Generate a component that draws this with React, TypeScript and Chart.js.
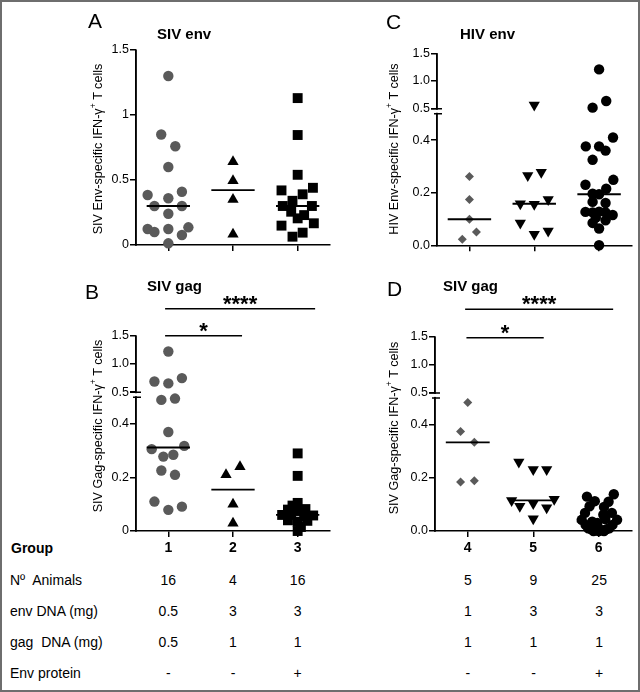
import React, { useEffect, useRef } from 'react';
import { Chart, registerables } from 'chart.js';

Chart.register(...registerables);

const FONT = '"Liberation Sans", Arial, Helvetica, sans-serif';
const GRAY = '#5a5a5a';
const BLACK = '#000000';
Chart.defaults.font.family = FONT;
Chart.defaults.color = BLACK;

// ---------------- DATA ----------------
// Panel A: SIV env (groups 1-3)
const sivEnvG1 = [1.3, 0.85, 0.76, 0.6, 0.385, 0.36, 0.41, 0.3, 0.3, 0.24, 0.123, 0.1, 0.123, 0.077, 0.136, 0.013];
const sivEnvG1Jit = [0, -0.11, 0.108, 0, -0.32, 0, 0.21, -0.215, 0.21, 0, -0.32, -0.215, 0, 0.21, 0.31, 0];
const sivEnvG2 = [0.64, 0.495, 0.35, 0.082];
const sivEnvG2Jit = [0, 0, 0, 0];
const sivEnvG3 = [1.13, 0.846, 0.54, 0.42, 0.44, 0.39, 0.34, 0.3, 0.3, 0.256, 0.205, 0.23, 0.149, 0.167, 0.095, 0.064];
const sivEnvG3Jit = [0, 0, 0, -0.25, 0.236, 0.077, -0.08, -0.23, 0.22, -0.1, 0, 0.1, -0.25, 0.25, 0.077, -0.08];

// Panel B: SIV gag (groups 1-3)
const sivGagG1 = [1.22, 0.69, 0.656, 0.75, 0.49, 0.495, 0.37, 0.306, 0.318, 0.278, 0.285, 0.226, 0.21, 0.11, 0.079, 0.091];
const sivGagG1Jit = [0, -0.215, 0, 0.21, -0.108, 0.103, 0, -0.257, 0.246, -0.077, 0.077, -0.108, 0.103, -0.215, 0, 0.21];
const sivGagG2 = [0.21, 0.24, 0.1, 0.029];
const sivGagG2Jit = [-0.108, 0.108, 0, 0];
const sivGagG3 = [0.29, 0.206, 0.105, 0.095, 0.08, 0.082, 0.075, 0.06, 0.06, 0.055, 0.058, 0.04, 0.038, 0.035, 0.015, 0.0];
const sivGagG3Jit = [0, 0, 0, -0.08, -0.15, 0.12, 0, -0.24, -0.1, 0.1, 0.24, -0.15, 0.15, 0, 0.05, 0];

// Panel C: HIV env (groups 4-6)
const hivEnvG4 = [0.262, 0.174, 0.099, 0.051, 0.023];
const hivEnvG4Jit = [0, 0, 0, 0.108, -0.11];
const hivEnvG5 = [0.57, 0.265, 0.278, 0.158, 0.156, 0.174, 0.085, 0.042, 0.054];
const hivEnvG5Jit = [0, -0.1, 0.108, -0.215, 0, 0.215, -0.215, 0, 0.215];
const hivEnvG6 = [1.21, 0.52, 0.64, 0.41, 0.376, 0.376, 0.36, 0.325, 0.23, 0.249, 0.215, 0.196, 0.194, 0.165, 0.161, 0.127, 0.125, 0.128, 0.125, 0.115, 0.085, 0.095, 0.064, 0.0, 0.105];
const hivEnvG6Jit = [0, -0.1, 0.11, 0.215, -0.205, 0, 0.1, -0.1, -0.21, 0.22, 0.11, -0.1, 0, -0.1, 0.1, -0.21, -0.1, 0, 0.1, 0.21, -0.1, 0.1, 0, 0, -0.05];

// Panel D: SIV gag (groups 4-6)
const sivGag2G4 = [0.483, 0.374, 0.333, 0.184, 0.189];
const sivGag2G4Jit = [0, -0.11, 0.1, -0.11, 0.1];
const sivGag2G5 = [0.259, 0.231, 0.231, 0.115, 0.093, 0.103, 0.087, 0.119, 0.046];
const sivGag2G5Jit = [-0.22, 0, 0.205, -0.33, -0.205, 0, 0.205, 0.32, 0];
const sivGag2G6 = [0.129, 0.112, 0.138, 0.11, 0.093, 0.068, 0.068, 0.061, 0.09, 0.042, 0.042, 0.023, 0.023, 0.007, 0.007, 0.004, 0.004, 0.0, 0.0, 0.0, 0.01, 0.01, 0.035, 0.045, 0.03];
const sivGag2G6Jit = [-0.18, -0.06, 0.23, 0.15, -0.14, -0.21, 0.2, 0.07, 0.08, -0.26, 0.28, -0.2, 0.21, -0.12, 0.12, -0.04, 0.04, 0, -0.08, 0.08, -0.16, 0.16, -0.1, 0.1, -0.02];

// Axis ticks
const leftCats = [1, 2, 3];
const rightCats = [4, 5, 6];
const leftGroupLabels = ['1', '2', '3'];
const rightGroupLabels = ['4', '5', '6'];
const aTicks = [0, 0.5, 1, 1.5];
const aTickLabels = ['0', '0.5', '1', '1.5'];
const lowTicks = [0, 0.2, 0.4];
const lowTickLabelsB = ['0', '0.2', '0.4'];
const lowTickLabelsCD = ['0.0', '0.2', '0.4'];
const highTicks = [0.5, 1.0, 1.5];
const highTickLabels = ['0.5', '1.0', '1.5'];

// Table
const tableRowLabels = ['N\u00BA  Animals', 'env DNA (mg)', 'gag  DNA (mg)', 'Env protein'];
const nAnimals = ['16', '4', '16', '5', '9', '25'];
const envDNA = ['0.5', '3', '3', '1', '3', '3'];
const gagDNA = ['0.5', '1', '1', '1', '1', '1'];
const envProtein = ['-', '-', '+', '-', '-', '+'];

// ---------------- LAYOUT ----------------
const Y_W = 40;
const BREAK_VALUE = 0.5;
const LOW_FRAC = 0.685;
const GAP_PX = 5;

type Rect = { left: number; top: number; width: number; height: number };
type Area = { left: number; top: number; right: number; bottom: number };
type Grp = { x: number; values: number[]; jitter: number[]; style: string; color: string; radius: number; rotation?: number };
type Sig = { from: number; to: number; label: string; dy: number };

function median(arr: number[]) {
  const s = [...arr].sort((a, b) => a - b);
  const n = s.length;
  return n % 2 ? s[(n - 1) / 2] : (s[n / 2 - 1] + s[n / 2]) / 2;
}

const sigPlugin = {
  id: 'sig',
  afterDraw(chart: any, _a: any, opts: any) {
    const bars: Sig[] = opts && opts.bars;
    if (!bars || !bars.length) return;
    const { ctx, chartArea } = chart;
    const x = chart.scales.x;
    ctx.save();
    bars.forEach((b) => {
      const y = chartArea.top - b.dy;
      const x1 = x.getPixelForValue(b.from);
      const x2 = x.getPixelForValue(b.to);
      ctx.strokeStyle = BLACK;
      ctx.lineWidth = 1.5;
      ctx.beginPath();
      ctx.moveTo(x1, y);
      ctx.lineTo(x2, y);
      ctx.stroke();
      ctx.font = `bold 22px ${FONT}`;
      ctx.fillStyle = BLACK;
      ctx.textAlign = 'center';
      ctx.textBaseline = 'alphabetic';
      const m = ctx.measureText(b.label);
      const cy = y - 8.5;
      const base = cy + (m.actualBoundingBoxAscent - m.actualBoundingBoxDescent) / 2;
      ctx.fillText(b.label, (x1 + x2) / 2, base);
    });
    ctx.restore();
  },
};

const axisPlugin = {
  id: 'axisBreak',
  afterDraw(chart: any, _a: any, opts: any) {
    const { ctx, chartArea } = chart;
    const ax = chartArea.left;
    ctx.save();
    ctx.strokeStyle = BLACK;
    ctx.lineWidth = 1.5;
    ctx.beginPath();
    ctx.moveTo(ax, chartArea.top);
    ctx.lineTo(ax, chartArea.bottom + 0.75);
    ctx.stroke();
    if (opts && opts.enabled) {
      const lo = chart.scales.yLow;
      const hi = chart.scales.yHigh;
      const yA = hi.getPixelForValue(BREAK_VALUE);
      const yB = lo.getPixelForValue(BREAK_VALUE);
      ctx.fillStyle = '#ffffff';
      ctx.fillRect(ax - 3, yA + 1, 6, yB - yA - 2);
      ctx.beginPath();
      ctx.moveTo(ax - 6, yA);
      ctx.lineTo(ax + 5, yA);
      ctx.moveTo(ax - 3, yB);
      ctx.lineTo(ax + 5, yB);
      ctx.stroke();
    }
    ctx.restore();
  },
};

function yScale(tickVals: number[], labels: string[], extra: any) {
  return {
    type: 'linear',
    position: 'left',
    afterFit: (s: any) => {
      s.width = Y_W;
    },
    afterBuildTicks: (s: any) => {
      s.ticks = tickVals.map((v) => ({ value: v }));
    },
    ticks: {
      callback: (_v: any, i: number) => labels[i],
      font: { family: FONT, size: 12.5 },
      color: BLACK,
      padding: 1,
      autoSkip: false,
    },
    grid: { drawOnChartArea: false, drawTicks: true, tickLength: 6, color: BLACK, lineWidth: 1.5 },
    border: { display: true, color: BLACK, width: 1.5 },
    ...extra,
  };
}

type PanelProps = {
  rect: Rect;
  area: Area;
  groups: Grp[];
  broken: boolean;
  cats: number[];
  xLabels: string[] | null;
  lowLabels: string[];
  sig: Sig[];
};

function Panel({ rect, area, groups, broken, cats, xLabels, lowLabels, sig }: PanelProps) {
  const ref = useRef<HTMLCanvasElement | null>(null);
  useEffect(() => {
    if (!ref.current) return;
    const xH = xLabels ? 32 : 8;
    const padding = {
      left: area.left - rect.left - Y_W,
      top: area.top - rect.top,
      right: rect.left + rect.width - area.right,
      bottom: rect.top + rect.height - area.bottom - xH,
    };
    const datasets: any[] = [];
    groups.forEach((g) => {
      const pts = g.values.map((v, i) => ({ x: g.x + g.jitter[i], y: v }));
      const common = {
        type: 'scatter',
        showLine: false,
        clip: false,
        order: 1,
        pointStyle: g.style,
        pointRadius: g.radius,
        pointRotation: g.rotation || 0,
        pointBackgroundColor: g.color,
        pointBorderColor: g.color,
        pointBorderWidth: 0,
        backgroundColor: g.color,
        borderColor: g.color,
      };
      if (broken) {
        datasets.push({ ...common, yAxisID: 'yLow', data: pts.filter((p) => p.y < BREAK_VALUE) });
        datasets.push({ ...common, yAxisID: 'yHigh', data: pts.filter((p) => p.y >= BREAK_VALUE) });
      } else {
        datasets.push({ ...common, yAxisID: 'y', data: pts });
      }
      const m = median(g.values);
      datasets.push({
        type: 'line',
        showLine: true,
        clip: false,
        order: 0,
        data: [
          { x: g.x - 0.335, y: m },
          { x: g.x + 0.335, y: m },
        ],
        borderColor: BLACK,
        borderWidth: 1.8,
        pointRadius: 0,
        yAxisID: broken ? (m < BREAK_VALUE ? 'yLow' : 'yHigh') : 'y',
      });
    });

    const xScale = {
      type: 'linear',
      position: 'bottom',
      min: cats[0] - 0.5,
      max: cats[cats.length - 1] + 0.5,
      afterFit: (s: any) => {
        s.height = xH;
      },
      afterBuildTicks: (s: any) => {
        s.ticks = cats.map((v) => ({ value: v }));
      },
      ticks: {
        display: !!xLabels,
        callback: (_v: any, i: number) => (xLabels ? xLabels[i] : ''),
        font: { family: FONT, size: 14, weight: 'bold' },
        color: BLACK,
        padding: 3,
        maxRotation: 0,
        autoSkip: false,
      },
      grid: { drawOnChartArea: false, drawTicks: true, tickLength: 6, color: BLACK, lineWidth: 1.5 },
      border: { display: true, color: BLACK, width: 1.5 },
    };

    let scales: any;
    if (broken) {
      const H = area.bottom - area.top;
      const hiH = H * (1 - LOW_FRAC);
      const gapUnits = (GAP_PX / (hiH - GAP_PX)) * (highTicks[highTicks.length - 1] - BREAK_VALUE);
      scales = {
        x: xScale,
        yLow: yScale(lowTicks, lowLabels, {
          stack: 'yst',
          stackWeight: LOW_FRAC,
          min: 0,
          max: BREAK_VALUE,
        }),
        yHigh: yScale(highTicks, highTickLabels, {
          stack: 'yst',
          stackWeight: 1 - LOW_FRAC,
          min: BREAK_VALUE - gapUnits,
          max: highTicks[highTicks.length - 1],
        }),
      };
    } else {
      scales = {
        x: xScale,
        y: yScale(aTicks, aTickLabels, { min: 0, max: 1.5 }),
      };
    }

    const chart = new Chart(ref.current, {
      type: 'scatter',
      data: { datasets },
      options: {
        responsive: false,
        animation: false,
        events: [],
        layout: { padding },
        scales,
        plugins: {
          legend: { display: false },
          tooltip: { enabled: false },
          title: { display: false },
          sig: { bars: sig },
          axisBreak: { enabled: broken },
        } as any,
      } as any,
      plugins: [sigPlugin, axisPlugin],
    } as any);
    return () => chart.destroy();
  }, []);
  return (
    <canvas
      ref={ref}
      width={rect.width}
      height={rect.height}
      style={{ position: 'absolute', left: rect.left, top: rect.top, width: rect.width, height: rect.height }}
    />
  );
}

// text helpers
const ASC = 0.8465; // baseline offset factor for Liberation Sans with line-height 1
function T({ x, y, size, bold, center, children }: any) {
  return (
    <div
      style={{
        position: 'absolute',
        left: x,
        top: y - ASC * size,
        fontFamily: FONT,
        fontSize: size,
        lineHeight: `${size}px`,
        fontWeight: bold ? 'bold' : 'normal',
        whiteSpace: 'pre',
        color: BLACK,
        transform: center ? 'translateX(-50%)' : undefined,
      }}
    >
      {children}
    </div>
  );
}

function YTitle({ cx, cy, name }: { cx: number; cy: number; name: string }) {
  return (
    <div
      style={{
        position: 'absolute',
        left: cx,
        top: cy,
        transform: 'translate(-50%, -50%) rotate(-90deg)',
        fontFamily: FONT,
        fontSize: 12.6,
        lineHeight: '14px',
        whiteSpace: 'nowrap',
        color: BLACK,
      }}
    >
      {name}-specific IFN-γ<sup style={{ fontSize: 8.5, verticalAlign: 'top', lineHeight: '8px', position: 'relative', top: -2 }}>+</sup> T cells
    </div>
  );
}

const AREA_A: Area = { left: 136, top: 50, right: 330, bottom: 245 };
const AREA_B: Area = { left: 136, top: 335.7, right: 330, bottom: 531 };
const AREA_C: Area = { left: 437, top: 53.3, right: 632, bottom: 245.3 };
const AREA_D: Area = { left: 435, top: 336.7, right: 632, bottom: 531 };

function colX(area: Area, i: number) {
  return area.left + ((i + 0.5) / 3) * (area.right - area.left);
}

export default function App() {
  const gA: Grp[] = [
    { x: 1, values: sivEnvG1, jitter: sivEnvG1Jit, style: 'circle', color: GRAY, radius: 5.2 },
    { x: 2, values: sivEnvG2, jitter: sivEnvG2Jit, style: 'triangle', color: BLACK, radius: 6.5 },
    { x: 3, values: sivEnvG3, jitter: sivEnvG3Jit, style: 'rect', color: BLACK, radius: 7 },
  ];
  const gB: Grp[] = [
    { x: 1, values: sivGagG1, jitter: sivGagG1Jit, style: 'circle', color: GRAY, radius: 5.2 },
    { x: 2, values: sivGagG2, jitter: sivGagG2Jit, style: 'triangle', color: BLACK, radius: 6.5 },
    { x: 3, values: sivGagG3, jitter: sivGagG3Jit, style: 'rect', color: BLACK, radius: 7 },
  ];
  const gC: Grp[] = [
    { x: 4, values: hivEnvG4, jitter: hivEnvG4Jit, style: 'rectRot', color: GRAY, radius: 4.5 },
    { x: 5, values: hivEnvG5, jitter: hivEnvG5Jit, style: 'triangle', color: BLACK, radius: 6.5, rotation: 180 },
    { x: 6, values: hivEnvG6, jitter: hivEnvG6Jit, style: 'circle', color: BLACK, radius: 5.2 },
  ];
  const gD: Grp[] = [
    { x: 4, values: sivGag2G4, jitter: sivGag2G4Jit, style: 'rectRot', color: GRAY, radius: 4.5 },
    { x: 5, values: sivGag2G5, jitter: sivGag2G5Jit, style: 'triangle', color: BLACK, radius: 6.5, rotation: 180 },
    { x: 6, values: sivGag2G6, jitter: sivGag2G6Jit, style: 'circle', color: BLACK, radius: 5.2 },
  ];
  const sigB: Sig[] = [
    { from: 0.95, to: 3.27, label: '****', dy: 27 },
    { from: 0.95, to: 2.14, label: '*', dy: 0 },
  ];
  const sigD: Sig[] = [
    { from: 3.96, to: 6.22, label: '****', dy: 27.4 },
    { from: 3.98, to: 5.16, label: '*', dy: -1 },
  ];
  const rowBase = [585, 615.5, 646.5, 678];
  const rowVals = [nAnimals, envDNA, gagDNA, envProtein];

  return (
    <div
      style={{
        position: 'absolute',
        left: 0,
        top: 0,
        width: 640,
        height: 692,
        background: '#ffffff',
        border: '2px solid #6e6e6e',
        boxSizing: 'border-box',
        overflow: 'hidden',
      }}
    >
      <div style={{ position: 'absolute', left: -2, top: -2, width: 640, height: 692 }}>
        <Panel rect={{ left: 60, top: 20, width: 280, height: 240 }} area={AREA_A} groups={gA} broken={false} cats={leftCats} xLabels={null} lowLabels={lowTickLabelsB} sig={[]} />
        <Panel rect={{ left: 60, top: 290, width: 280, height: 275 }} area={AREA_B} groups={gB} broken={true} cats={leftCats} xLabels={leftGroupLabels} lowLabels={lowTickLabelsB} sig={sigB} />
        <Panel rect={{ left: 360, top: 20, width: 278, height: 240 }} area={AREA_C} groups={gC} broken={true} cats={rightCats} xLabels={null} lowLabels={lowTickLabelsCD} sig={[]} />
        <Panel rect={{ left: 360, top: 290, width: 278, height: 275 }} area={AREA_D} groups={gD} broken={true} cats={rightCats} xLabels={rightGroupLabels} lowLabels={lowTickLabelsCD} sig={sigD} />

        <T x={88} y={28} size={21}>A</T>
        <T x={157} y={38.3} size={15} bold>SIV env</T>
        <T x={386} y={28.3} size={21}>C</T>
        <T x={460} y={38.3} size={15} bold>HIV env</T>
        <T x={85} y={298.3} size={21}>B</T>
        <T x={147} y={290.5} size={15} bold>SIV gag</T>
        <T x={387} y={296} size={21}>D</T>
        <T x={443} y={290.5} size={15} bold>SIV gag</T>

        <YTitle cx={98} cy={148.5} name="SIV Env" />
        <YTitle cx={394} cy={148.5} name="HIV Env" />
        <YTitle cx={97.5} cy={426} name="SIV Gag" />
        <YTitle cx={394} cy={428} name="SIV Gag" />

        <T x={11} y={553} size={14} bold>Group</T>
        {tableRowLabels.map((lab, r) => (
          <T key={'l' + r} x={10} y={rowBase[r]} size={14}>{lab}</T>
        ))}
        {rowVals.map((vals, r) =>
          vals.map((v, i) => (
            <T key={r + '-' + i} x={i < 3 ? colX(AREA_B, i) : colX(AREA_D, i - 3)} y={rowBase[r]} size={14} center>
              {v}
            </T>
          ))
        )}
      </div>
    </div>
  );
}
